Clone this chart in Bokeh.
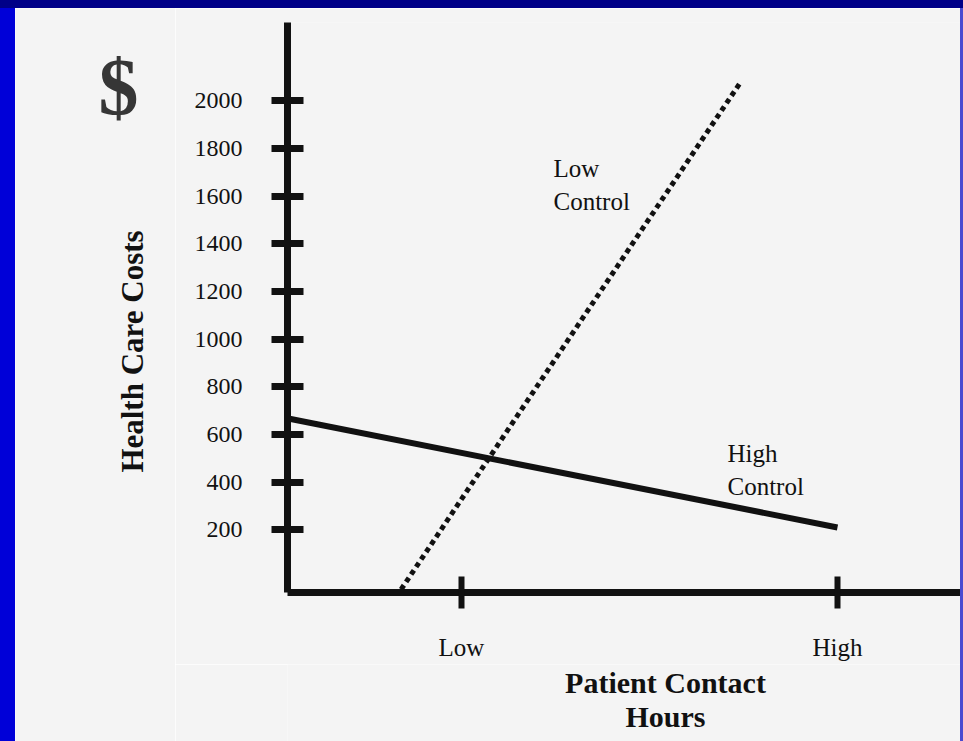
from bokeh.plotting import figure
from bokeh.models import Range1d, FixedTicker, Label, Div
from bokeh.layouts import row, column
from bokeh.embed import file_html
from bokeh.resources import INLINE
from math import pi

# ---- data ----
x_ticks = [1, 2]
x_tick_labels = ["Low", "High"]
y_ticks = [200, 400, 600, 800, 1000, 1200, 1400, 1600, 1800, 2000]

high_control_x = [0.54, 2.0]
high_control_y = [667, 210]

low_control_x = [0.84, 1.74]
low_control_y = [-50, 2073]

PAPER = "#f4f4f4"
INK = "#111111"
SERIF = "Liberation Serif"


def blank_fig(w, h):
    f = figure(width=w, height=h, output_backend="svg", toolbar_location=None,
               x_axis_location=None, y_axis_location=None,
               x_range=Range1d(0, 1), y_range=Range1d(0, 1),
               min_border_left=0, min_border_right=0, min_border_top=0,
               min_border_bottom=0)
    f.background_fill_color = PAPER
    f.border_fill_color = PAPER
    f.outline_line_color = None
    f.grid.visible = False
    return f


def lab(fig, text, x, y, size, bold=False, align="left", angle=0, color=INK,
        baseline="alphabetic"):
    fig.add_layout(Label(text=text, x=x, y=y, x_units="screen", y_units="screen",
                         text_font=SERIF, text_font_size=size,
                         text_font_style="bold" if bold else "normal",
                         text_align=align, text_baseline=baseline,
                         angle=angle, text_color=color))


# ---------------- main chart ----------------
p = figure(width=785, height=656, output_backend="svg", toolbar_location=None,
           x_range=Range1d(0.538, 2.327), y_range=Range1d(-63, 2329),
           min_border_left=112, min_border_right=0, min_border_top=14,
           min_border_bottom=72)
p.background_fill_color = PAPER
p.border_fill_color = PAPER
p.outline_line_color = None
p.grid.visible = False

ya = p.yaxis[0]
ya.ticker = FixedTicker(ticks=y_ticks)
ya.axis_line_width = 7
ya.axis_line_color = INK
ya.major_tick_line_width = 7
ya.major_tick_line_color = INK
ya.major_tick_in = 16
ya.major_tick_out = 16
ya.minor_tick_line_color = None
ya.major_label_standoff = 29
ya.major_label_text_font = SERIF
ya.major_label_text_font_size = "24px"
ya.major_label_text_color = INK

xa = p.xaxis[0]
xa.ticker = FixedTicker(ticks=x_ticks)
xa.major_label_overrides = {t: l for t, l in zip(x_ticks, x_tick_labels)}
xa.axis_line_width = 7
xa.axis_line_color = INK
xa.major_tick_line_width = 6
xa.major_tick_line_color = INK
xa.major_tick_in = 16
xa.major_tick_out = 16
xa.minor_tick_line_color = None
xa.major_label_standoff = 25
xa.major_label_text_font = SERIF
xa.major_label_text_font_size = "25px"
xa.major_label_text_color = INK

p.line(high_control_x, high_control_y, line_width=6, line_color=INK)
p.line(low_control_x, low_control_y, line_width=5, line_color=INK,
       line_dash="5 4", line_cap="butt")

# series labels (frame-relative screen px, y upward from frame bottom)
lab(p, "Low", 266, 424, "25px")
lab(p, "Control", 266, 391, "25px")
lab(p, "High", 440, 139, "25px")
lab(p, "Control", 440, 106, "25px")

# ---------------- left title panel ----------------
left = blank_fig(160, 733)
lab(left, "$", 103, 655, "80px", bold=True, align="center", color="#363636",
    baseline="middle")
lab(left, "Health Care Costs", 117, 390, "31px", bold=True, align="center",
    angle=pi / 2, baseline="middle")

# ---------------- bottom title panel ----------------
bottom = blank_fig(785, 77)
lab(bottom, "Patient Contact", 378, 59, "30px", bold=True, align="center")
lab(bottom, "Hours", 378, 25, "30px", bold=True, align="center")

# ---------------- slide frame ----------------
top_band = Div(width=963, height=8, margin=0,
               styles={"background-color": "#000088"})
left_band = Div(width=15, height=733, margin=0,
                styles={"background-color": "#0000d8"})
right_band = Div(width=3, height=733, margin=0,
                 styles={"background-color": "#4a4ad0"})

layout = column(top_band,
                row(left_band, left, column(p, bottom, spacing=0), right_band,
                    spacing=0),
                spacing=0)

open("out.html", "w").write(file_html(layout, INLINE))
